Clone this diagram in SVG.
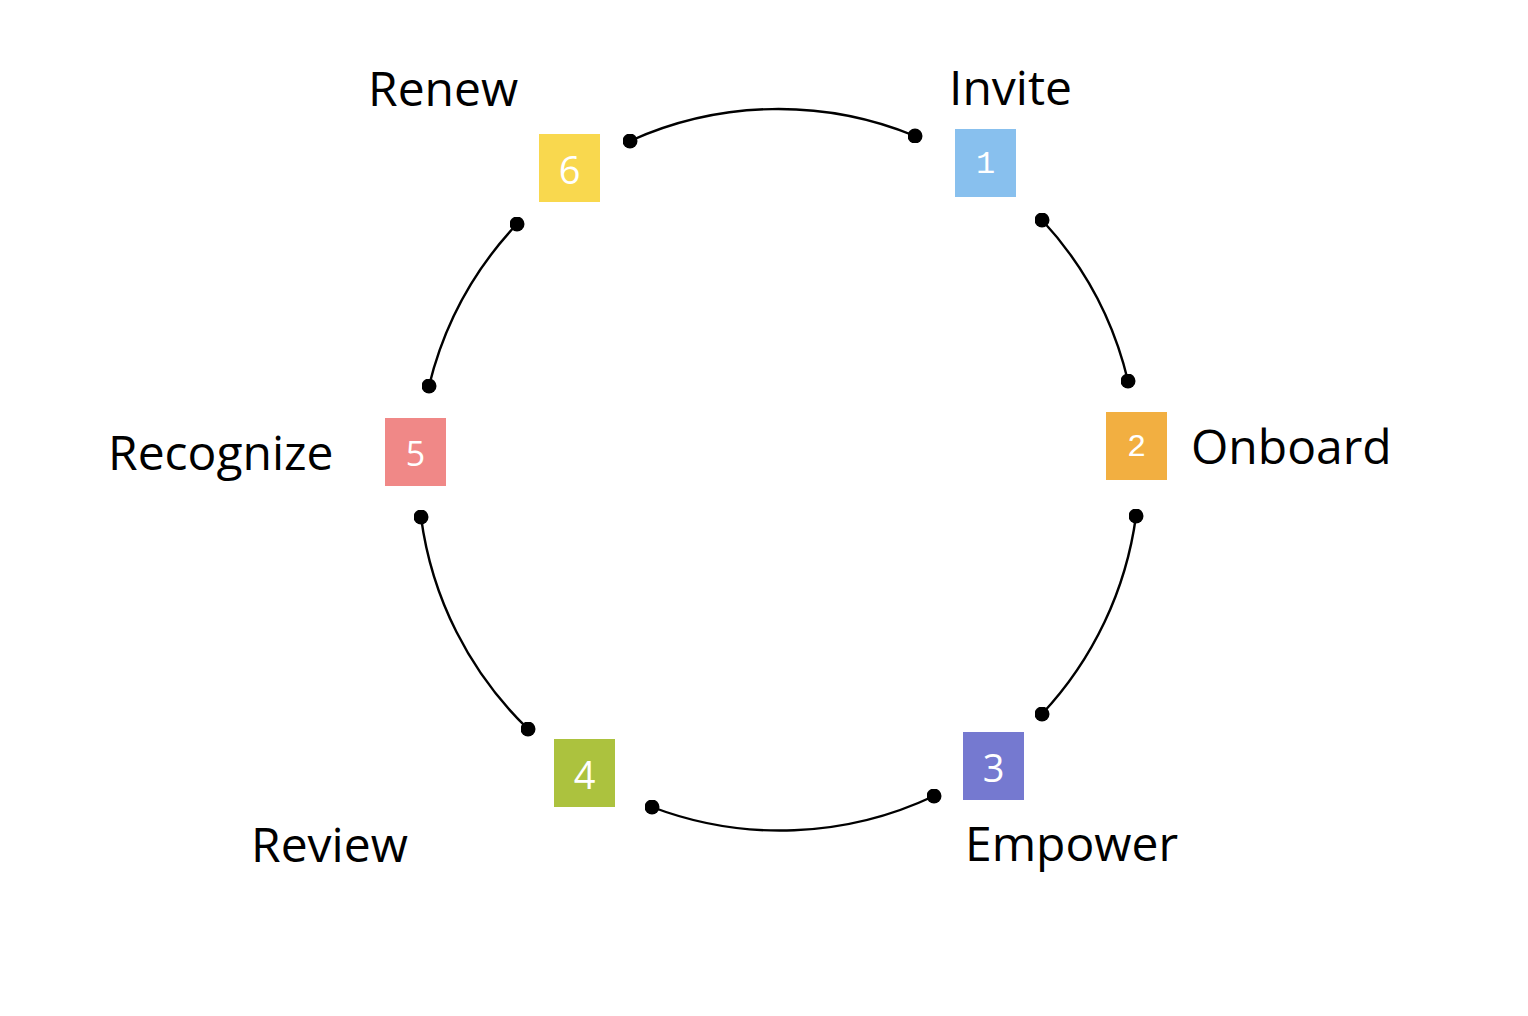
<svg xmlns="http://www.w3.org/2000/svg" width="1528" height="1016" viewBox="0 0 1528 1016">
<style>
.lbl{font-family:"Open Sans","Noto Sans",sans-serif;font-size:48px;fill:#000}
.num{font-family:"Open Sans","Noto Sans",sans-serif;fill:#fff;text-anchor:middle;dominant-baseline:central}
.mono{font-family:"Liberation Mono","DejaVu Sans Mono",monospace}
.arc{fill:none;stroke:#000;stroke-width:2.4;marker-start:url(#dot);marker-end:url(#dot)}
</style>
<defs>
<marker id="dot" viewBox="0 0 10 10" refX="5" refY="5" markerWidth="15" markerHeight="15" markerUnits="userSpaceOnUse">
<circle cx="5" cy="5" r="5" fill="#000"/>
</marker>
</defs>
<rect width="1528" height="1016" fill="#fff"/>
<g id="connectors">
<path class="arc" d="M630 141 A360 360 0 0 1 915 136"/>
<path class="arc" d="M1042 220 A360 360 0 0 1 1128 381"/>
<path class="arc" d="M1136 516 A360 360 0 0 1 1042 714"/>
<path class="arc" d="M934 796 A360 360 0 0 1 652 807"/>
<path class="arc" d="M528 729 A360 360 0 0 1 421 517"/>
<path class="arc" d="M429 386 A360 360 0 0 1 517 224"/>
</g>
<g id="node1">
<rect x="955" y="129" width="61" height="68" fill="#88C0EE"/>
<text class="num mono" x="985.5" y="164" font-size="32">1</text>
<text class="lbl" x="949" y="105">Invite</text>
</g>
<g id="node2">
<rect x="1106" y="412" width="61" height="68" fill="#F2AF41"/>
<text class="num mono" x="1136.5" y="447" font-size="32">2</text>
<text class="lbl" x="1191" y="464">Onboard</text>
</g>
<g id="node3">
<rect x="963" y="732" width="61" height="68" fill="#7579D0"/>
<text class="num" x="993.5" y="767" font-size="38">3</text>
<text class="lbl" x="965" y="861">Empower</text>
</g>
<g id="node4">
<rect x="554" y="739" width="61" height="68" fill="#ACC23E"/>
<text class="num" x="584.5" y="774" font-size="38">4</text>
<text class="lbl" x="251" y="862">Review</text>
</g>
<g id="node5">
<rect x="385" y="418" width="61" height="68" fill="#F08887"/>
<text class="num" x="415.5" y="453" font-size="34">5</text>
<text class="lbl" x="108" y="470">Recognize</text>
</g>
<g id="node6">
<rect x="539" y="134" width="61" height="68" fill="#F9D84E"/>
<text class="num" x="569.5" y="169" font-size="38">6</text>
<text class="lbl" x="368" y="106">Renew</text>
</g>
</svg>
